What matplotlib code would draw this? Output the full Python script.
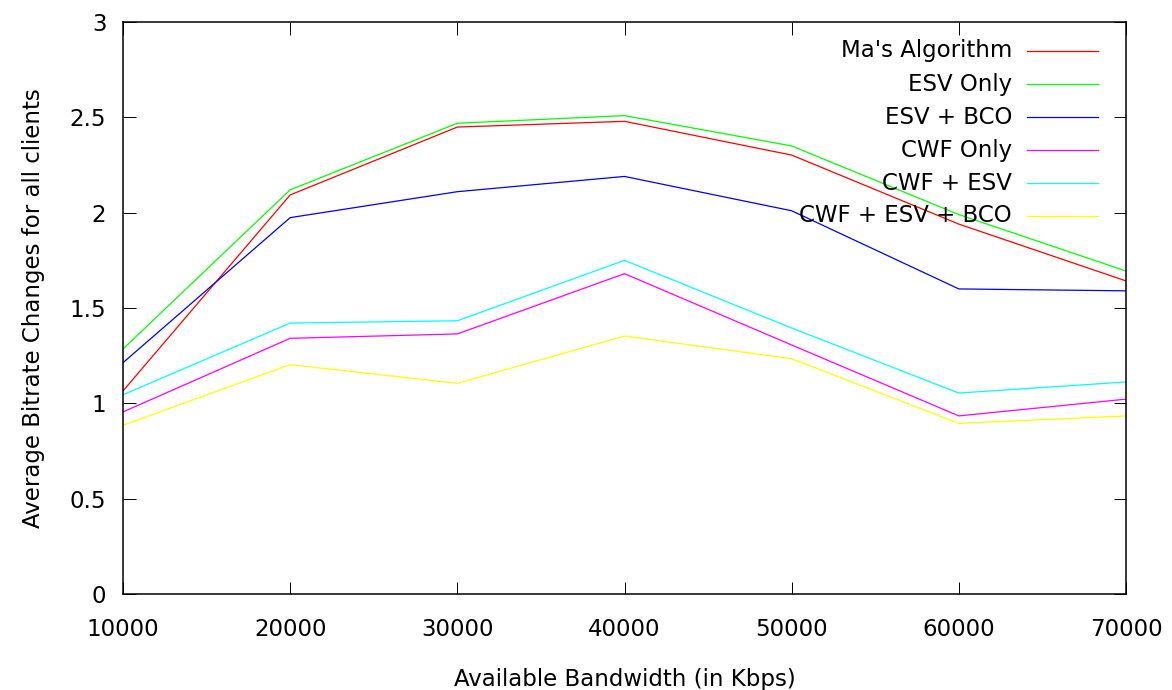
import matplotlib
matplotlib.use("Agg")
import matplotlib.pyplot as plt

# ____ Data
bandwidth = [10000, 20000, 30000, 40000, 50000, 60000, 70000]

ma_algorithm = [1.065, 2.093, 2.449, 2.479, 2.302, 1.94, 1.642]
esv_only = [1.285, 2.12, 2.469, 2.509, 2.35, 1.99, 1.694]
esv_bco = [1.213, 1.974, 2.11, 2.19, 2.01, 1.60, 1.59]
cwf_only = [0.955, 1.341, 1.364, 1.68, 1.306, 0.934, 1.022]
cwf_esv = [1.045, 1.421, 1.433, 1.75, 1.395, 1.054, 1.112]
cwf_esv_bco = [0.885, 1.203, 1.105, 1.353, 1.234, 0.895, 0.934]

series = [
    ("Ma's Algorithm", ma_algorithm, "#ff0000"),
    ("ESV Only", esv_only, "#00ff00"),
    ("ESV + BCO", esv_bco, "#0000ff"),
    ("CWF Only", cwf_only, "#ff00ff"),
    ("CWF + ESV", cwf_esv, "#00ffff"),
    ("CWF + ESV + BCO", cwf_esv_bco, "#ffff00"),
]

x_ticks = [10000, 20000, 30000, 40000, 50000, 60000, 70000]
y_ticks = [0, 0.5, 1, 1.5, 2, 2.5, 3]
y_tick_labels = ["0", "0.5", "1", "1.5", "2", "2.5", "3"]

plt.rcParams['font.family'] = ['DejaVu Sans']
FS = 16.5

fig = plt.figure(figsize=(11.72, 6.9), dpi=100)
ax = fig.add_axes([123 / 1172, 96 / 690, (1126 - 123) / 1172, (594 - 22) / 690])

for name, values, color in series:
    ax.plot(bandwidth, values, color=color, linewidth=0.9)

ax.set_xlim(10000, 70000)
ax.set_ylim(0, 3)
ax.set_xticks(x_ticks)
ax.set_xticklabels([str(v) for v in x_ticks])
ax.set_yticks(y_ticks)
ax.set_yticklabels(y_tick_labels)

ax.tick_params(direction='in', length=9, width=0.7, top=True, right=True,
               labelsize=FS, colors='black')
ax.tick_params(axis='x', pad=17)
ax.tick_params(axis='y', pad=12)
for spine in ax.spines.values():
    spine.set_linewidth(1.1)

ax.set_xlabel("Available Bandwidth (in Kbps)", fontsize=FS, labelpad=20)
ax.set_ylabel("Average Bitrate Changes for all clients", fontsize=FS, labelpad=18)

# ____ Legend drawn gnuplot style: right aligned text, sample on the right
text_x = 1012
line_x0, line_x1 = 1027, 1098
row_y = [51, 84, 117, 150, 183, 216]
for (name, values, color), yy in zip(series, row_y):
    fy = 1 - yy / 690
    fig.text(text_x / 1172, fy, name, ha='right', va='center', fontsize=FS)
    fig.add_artist(plt.Line2D([line_x0 / 1172, line_x1 / 1172], [fy, fy],
                              color=color, linewidth=0.9))

fig.savefig("out.png", dpi=100)
